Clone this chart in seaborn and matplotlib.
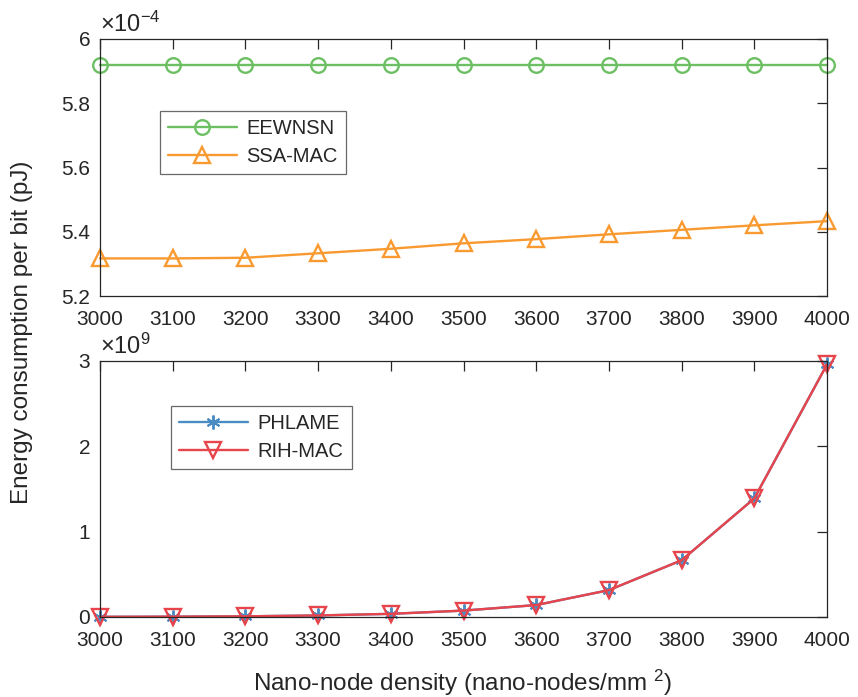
import numpy as np
import pandas as pd
import seaborn as sns
import matplotlib
matplotlib.use("Agg")
import matplotlib.pyplot as plt
from matplotlib.ticker import FuncFormatter

# ---- data ----
density = [3000, 3100, 3200, 3300, 3400, 3500, 3600, 3700, 3800, 3900, 4000]
# top panel, units of 1e-4 pJ
eewnsn = [5.92, 5.92, 5.92, 5.92, 5.92, 5.92, 5.92, 5.92, 5.92, 5.92, 5.92]
ssa_mac = [5.317, 5.317, 5.319, 5.333, 5.347, 5.364, 5.377, 5.392, 5.406, 5.420, 5.433]
# bottom panel, units of 1e9 pJ
phlame = [0.002, 0.004, 0.008, 0.018, 0.037, 0.075, 0.14, 0.315, 0.665, 1.39, 2.96]
rih_mac = [0.002, 0.004, 0.008, 0.018, 0.037, 0.075, 0.14, 0.315, 0.665, 1.39, 2.96]
top_yticks = [5.2, 5.4, 5.6, 5.8, 6.0]
bot_yticks = [0, 1, 2, 3]

sns.set_style("white")
plt.rcParams['font.family'] = ['Liberation Sans', 'DejaVu Sans']
plt.rcParams['mathtext.fontset'] = 'custom'
plt.rcParams['mathtext.rm'] = 'Liberation Sans'
plt.rcParams['mathtext.it'] = 'Liberation Sans'

green = '#6CBF63'
orange = '#F99A31'
blue = '#4C8CC4'
red = '#E8444B'

fig = plt.figure(figsize=(8.58, 6.97), dpi=100)
ax1 = fig.add_axes([100/858, 1-296/697, 727/858, 257/697])
ax2 = fig.add_axes([100/858, 1-617/697, 727/858, 256/697])

df_top = pd.DataFrame({'x': density, 'EEWNSN': eewnsn, 'SSA-MAC': ssa_mac})
df_bot = pd.DataFrame({'x': density, 'PHLAME': phlame, 'RIH-MAC': rih_mac})

lw = 1.7
sns.lineplot(data=df_top, x='x', y='EEWNSN', ax=ax1, color=green, marker='o',
             markersize=10.5, markerfacecolor='none', markeredgecolor=green,
             markeredgewidth=1.7, linewidth=lw, label='EEWNSN', clip_on=False)
sns.lineplot(data=df_top, x='x', y='SSA-MAC', ax=ax1, color=orange, marker='^',
             markersize=12, markerfacecolor='none', markeredgecolor=orange,
             markeredgewidth=1.7, linewidth=lw, label='SSA-MAC', clip_on=False)

sns.lineplot(data=df_bot, x='x', y='PHLAME', ax=ax2, color=blue, marker=(6, 2, 0),
             markersize=10, markeredgecolor=blue, markeredgewidth=1.4,
             linewidth=lw, label='PHLAME', clip_on=False)
sns.lineplot(data=df_bot, x='x', y='RIH-MAC', ax=ax2, color=red, marker='v',
             markersize=12, markerfacecolor='none', markeredgecolor=red,
             markeredgewidth=1.7, linewidth=lw, label='RIH-MAC', clip_on=False)

fmt = FuncFormatter(lambda v, p: '%g' % round(v, 6))
for ax in (ax1, ax2):
    ax.set_xlim(3000, 4000)
    ax.set_xticks(density)
    ax.set_xlabel('')
    ax.set_ylabel('')
    ax.yaxis.set_major_formatter(fmt)
    ax.tick_params(direction='in', length=7, width=0.9, colors='#262626',
                   labelsize=15, top=True, right=True, pad=10)
    ax.tick_params(axis='y', pad=7)
    for s in ax.spines.values():
        s.set_color('#262626')
        s.set_linewidth(0.9)
    ax.grid(False)

ax1.set_ylim(5.2, 6.0)
ax1.set_yticks(top_yticks)
ax2.set_ylim(0, 3)
ax2.set_yticks(bot_yticks)

ax1.text(0.0, 1.01, r'$\times10^{-4}$', transform=ax1.transAxes, fontsize=17,
         ha='left', va='bottom', color='#262626')
ax2.text(0.0, 1.01, r'$\times10^{9}$', transform=ax2.transAxes, fontsize=17,
         ha='left', va='bottom', color='#262626')

leg_kw = dict(loc='upper left', fontsize=14.5, frameon=True, fancybox=False,
              edgecolor='#444444', handlelength=3.4, borderaxespad=0,
              labelspacing=0.45, borderpad=0.4, handletextpad=0.5)
l1 = ax1.legend(bbox_to_anchor=(60/727, (296-111)/257), **leg_kw)
l2 = ax2.legend(bbox_to_anchor=(71/727, (617-406)/256), **leg_kw)
for l in (l1, l2):
    l.get_frame().set_linewidth(0.9)

fig.text(22/858, 1-332/697, 'Energy consumption per bit (pJ)', rotation=90,
         ha='center', va='center', fontsize=17.5, color='#262626')
fig.text(463/858, 1-683/697, r'Nano-node density (nano-nodes/mm $^{2}$)',
         ha='center', va='center', fontsize=17.5, color='#262626')

fig.savefig('out.png', dpi=100)
